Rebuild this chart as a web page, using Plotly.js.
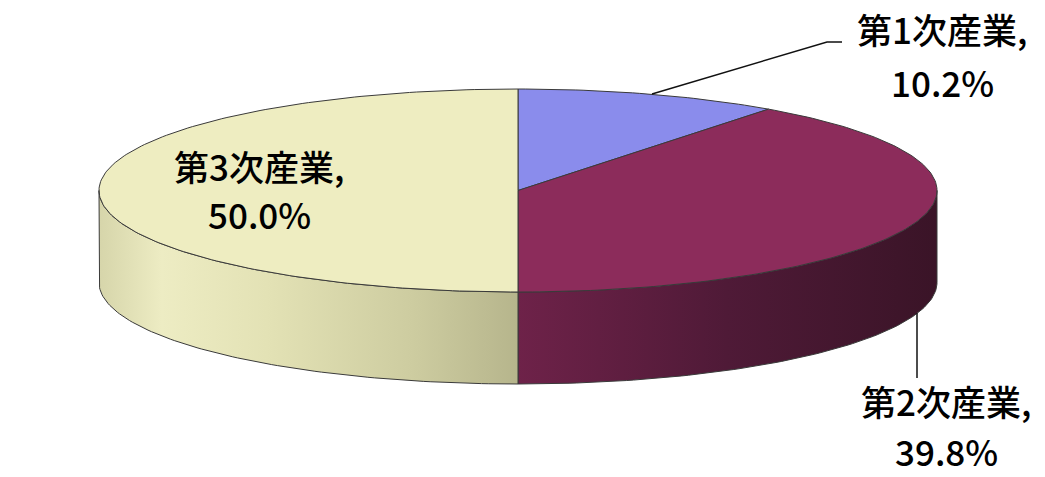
<!DOCTYPE html>
<html>
<head>
<meta charset="utf-8">
<script src="https://cdn.plot.ly/plotly-3.0.1.min.js"></script>
<style>html,body{margin:0;padding:0;background:#fff;}#chart{width:1045px;height:477px;}</style>
</head>
<body>
<div id="chart"></div>
<script>
// ---- data ----
var categories = ["第1次産業", "第2次産業", "第3次産業"];
var shares = [10.2, 39.8, 50.0];
var topColors = ["#8A8CEC", "#8C2C5B", "#EEEDC1"];
var sideScales = [
  [[0, "#5A5DB0"], [1, "#3A3C80"]],
  [[0, "#6E2249"], [0.5, "#4F1A37"], [1, "#3A1427"]],
  [[0, "#D6D5AA"], [0.15, "#EDECC3"], [0.4, "#E3E2B5"], [0.75, "#CDCCA0"], [1, "#B6B58C"]]
];

// ---- geometry (pixel-like axis units) ----
var cx = 518, cy = 190.5, rx = 419, ry = 101.5, depth = 92;
function px(t) { return cx + rx * Math.sin(t * Math.PI / 180); }
function py(t) { return cy - ry * Math.cos(t * Math.PI / 180); }

var total = shares.reduce(function (a, b) { return a + b; }, 0);
var starts = [], ends = [];
var acc = 0;
shares.forEach(function (v) {
  starts.push(acc / total * 360);
  acc += v;
  ends.push(acc / total * 360);
});

function arc(a1, a2, dy) {
  var xs = [], ys = [];
  var n = Math.max(2, Math.ceil(Math.abs(a2 - a1)));
  for (var i = 0; i <= n; i++) {
    var t = a1 + (a2 - a1) * i / n;
    xs.push(px(t)); ys.push(py(t) + dy);
  }
  return {x: xs, y: ys};
}

var traces = [];
// side walls (visible front half: 90..270 deg clockwise from top)
shares.forEach(function (v, i) {
  var a1 = Math.max(starts[i], 90), a2 = Math.min(ends[i], 270);
  if (a2 <= a1) return;
  var top = arc(a1, a2, 0), bot = arc(a2, a1, depth);
  var xs = top.x.concat(bot.x, [top.x[0]]);
  var ys = top.y.concat(bot.y, [top.y[0]]);
  traces.push({
    type: "scatter", mode: "lines", x: xs, y: ys, fill: "toself",
    fillgradient: {type: "horizontal", colorscale: sideScales[i], start: Math.min.apply(null, xs), stop: Math.max.apply(null, xs)},
    line: {color: "#3a3a3a", width: 1}, hoverinfo: "skip", showlegend: false
  });
});
// top faces
shares.forEach(function (v, i) {
  var a = arc(starts[i], ends[i], 0);
  traces.push({
    type: "scatter", mode: "lines",
    x: [cx].concat(a.x, [cx]), y: [cy].concat(a.y, [cy]),
    fill: "toself", fillcolor: topColors[i],
    line: {color: "#3a3a3a", width: 1}, hoverinfo: "skip", showlegend: false
  });
});

// labels
var labelPos = [
  {x: 942, y1: 28, y2: 81},
  {x: 946, y1: 400, y2: 450},
  {x: 259, y1: 165, y2: 213}
];
var font = {family: "Noto Sans CJK JP, sans-serif", size: 35, color: "#000", weight: 500};
var annotations = [];
categories.forEach(function (c, i) {
  annotations.push({x: labelPos[i].x, y: labelPos[i].y1, xref: "x", yref: "y", text: c + ",", showarrow: false, font: font, xanchor: "center", yanchor: "middle"});
  annotations.push({x: labelPos[i].x, y: labelPos[i].y2, xref: "x", yref: "y", text: shares[i].toFixed(1) + "%", showarrow: false, font: font, xanchor: "center", yanchor: "middle"});
});

var layout = {
  width: 1045, height: 477,
  margin: {l: 0, r: 0, t: 0, b: 0},
  paper_bgcolor: "#fff", plot_bgcolor: "#fff",
  xaxis: {range: [0, 1045], visible: false, fixedrange: true},
  yaxis: {range: [477, 0], visible: false, fixedrange: true},
  showlegend: false,
  annotations: annotations,
  shapes: [
    {type: "path", xref: "x", yref: "y", path: "M 652 94 L 827 42 L 842 42", line: {color: "#111", width: 1.5}},
    {type: "line", xref: "x", yref: "y", x0: 917, y0: 313, x1: 917, y1: 378, line: {color: "#111", width: 1.5}}
  ]
};

Plotly.newPlot("chart", traces, layout, {staticPlot: true, displayModeBar: false});
</script>
</body>
</html>
